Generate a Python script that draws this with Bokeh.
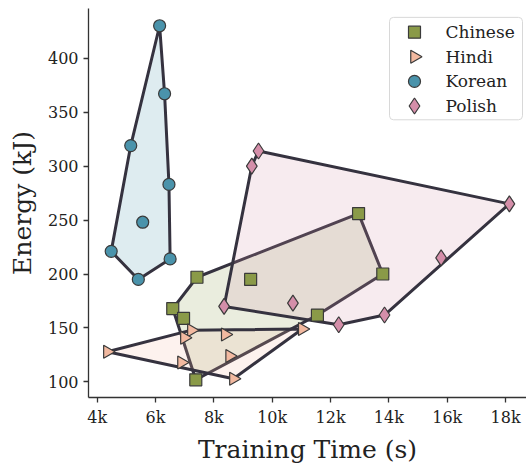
import numpy as np
from bokeh.plotting import figure
from bokeh.models import FixedTicker, Range1d, Label
from bokeh.embed import file_html
from bokeh.resources import INLINE

# ---- data ----
languages = ["Chinese", "Hindi", "Korean", "Polish"]

chinese_time = [7420, 9260, 6590, 6960, 7380, 11550, 12960, 13790]
chinese_energy = [197, 195, 168, 159, 102, 162, 256, 200]

hindi_time = [4350, 7230, 6990, 8390, 11030, 8540, 6890, 8670]
hindi_energy = [128, 148, 141, 144, 149, 124, 118, 103]

korean_time = [6140, 6310, 5150, 6460, 5560, 4480, 5410, 6500]
korean_energy = [430, 367, 319, 283, 248, 221, 195, 214]

polish_time = [9530, 9300, 18130, 15790, 13850, 12280, 10710, 8350]
polish_energy = [314, 300, 265, 215, 162, 153, 173, 170]

x_ticks = [4000, 6000, 8000, 10000, 12000, 14000, 16000, 18000]
x_tick_labels = ["4k", "6k", "8k", "10k", "12k", "14k", "16k", "18k"]
y_ticks = [100, 150, 200, 250, 300, 350, 400]

# ---- styles ----
colors = {"Chinese": "#8a9a48", "Hindi": "#f2b9a0", "Korean": "#4a93ab", "Polish": "#d48ea9"}
markers = {"Chinese": "square", "Hindi": "triangle", "Korean": "circle", "Polish": "diamond"}
sizes = {"Chinese": 12, "Hindi": 13, "Korean": 12, "Polish": 16}
angles = {"Chinese": 0.0, "Hindi": -np.pi / 2, "Korean": 0.0, "Polish": 0.0}
series = {
    "Chinese": (chinese_time, chinese_energy),
    "Hindi": (hindi_time, hindi_energy),
    "Korean": (korean_time, korean_energy),
    "Polish": (polish_time, polish_energy),
}
FONT = "DejaVu Serif"
EDGE = "#35323f"
TEXT = "#222222"

W, H = 526, 466
BL, BT, BB, BR = 88, 8, 63, 0
FW, FH = W - BL - BR, H - BT - BB


def convex_hull(xs, ys):
    pts = sorted(set(zip(xs, ys)))

    def cross(o, a, b):
        return (a[0] - o[0]) * (b[1] - o[1]) - (a[1] - o[1]) * (b[0] - o[0])

    lower, upper = [], []
    for pt in pts:
        while len(lower) >= 2 and cross(lower[-2], lower[-1], pt) <= 0:
            lower.pop()
        lower.append(pt)
    for pt in reversed(pts):
        while len(upper) >= 2 and cross(upper[-2], upper[-1], pt) <= 0:
            upper.pop()
        upper.append(pt)
    hull = lower[:-1] + upper[:-1]
    return [h[0] for h in hull], [h[1] for h in hull]


p = figure(width=W, height=H, output_backend="svg", toolbar_location=None,
           x_range=Range1d(3702, 18717), y_range=Range1d(85.6, 446),
           min_border_left=BL, min_border_right=BR, min_border_top=BT, min_border_bottom=BB)
p.outline_line_color = None
p.xgrid.visible = False
p.ygrid.visible = False
p.background_fill_color = "white"
# pixel ranges over the frame, used only to lay out the legend
p.extra_x_ranges = {"px": Range1d(0, FW)}
p.extra_y_ranges = {"px": Range1d(0, FH)}

for lang in languages:
    xs, ys = series[lang]
    hx, hy = convex_hull(xs, ys)
    p.patch(hx, hy, fill_color=colors[lang], fill_alpha=0.18,
            line_color=EDGE, line_width=3, line_join="round")

for lang in languages:
    xs, ys = series[lang]
    p.scatter(xs, ys, marker=markers[lang], size=sizes[lang], angle=angles[lang],
              fill_color=colors[lang], line_color="#3a3a3a", line_width=1.2)

# ---- legend (drawn by hand so the Hindi marker points right) ----
leg_left, leg_right, leg_top, leg_bottom = 301, 434, 386, 282
row0, row_step = 371, 25
mark_x, text_x = 326, 357
p.quad(left=[leg_left], right=[leg_right], top=[leg_top], bottom=[leg_bottom],
       x_range_name="px", y_range_name="px", fill_color="white", fill_alpha=0.85,
       line_color="#d8d8d8", line_width=1, border_radius=4)
for i, lang in enumerate(languages):
    yy = row0 - i * row_step
    p.scatter([mark_x], [yy], x_range_name="px", y_range_name="px",
              marker=markers[lang], size=sizes[lang], angle=angles[lang],
              fill_color=colors[lang], line_color="#3a3a3a", line_width=1.2)
    p.add_layout(Label(x=text_x, y=yy, x_range_name="px", y_range_name="px", text=lang,
                       text_font=FONT, text_font_size="17px", text_color=TEXT,
                       text_baseline="middle", text_align="left"))

for ax in (p.xaxis, p.yaxis):
    ax.axis_line_color = "#333333"
    ax.axis_line_width = 1.3
    ax.major_tick_line_color = "#333333"
    ax.major_tick_line_width = 1.3
    ax.major_tick_out = 5
    ax.major_tick_in = 0
    ax.minor_tick_line_color = None
    ax.major_label_text_font = FONT
    ax.major_label_text_font_size = "16px"
    ax.major_label_text_color = TEXT
    ax.axis_label_text_font = FONT
    ax.axis_label_text_font_size = "25px"
    ax.axis_label_text_font_style = "normal"
    ax.axis_label_text_color = TEXT

p.xaxis.ticker = FixedTicker(ticks=x_ticks)
p.xaxis.major_label_overrides = {t: l for t, l in zip(x_ticks, x_tick_labels)}
p.yaxis.ticker = FixedTicker(ticks=y_ticks)
p.xaxis.axis_label = "Training Time (s)"
p.yaxis.axis_label = "Energy (kJ)"
p.xaxis.axis_label_standoff = 5
p.yaxis.axis_label_standoff = 8

open("out.html", "w").write(file_html(p, INLINE))
